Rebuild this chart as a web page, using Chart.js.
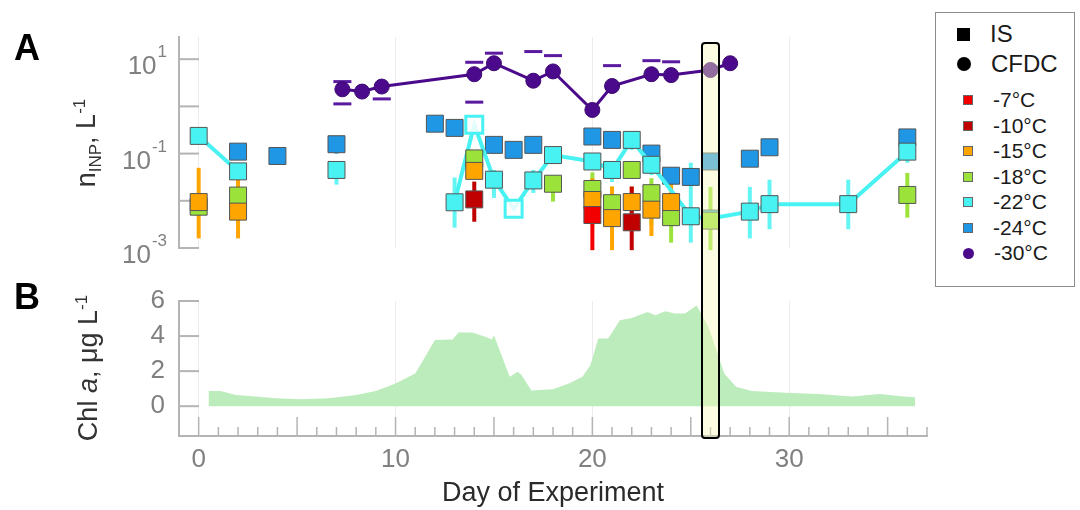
<!DOCTYPE html>
<html>
<head>
<meta charset="utf-8">
<script src="https://cdn.jsdelivr.net/npm/chart.js"></script>
<style>
  body { margin: 0; background: #fff; font-family: 'Liberation Sans', Arial, sans-serif; }
  #wrap { position: relative; width: 1080px; height: 510px; overflow: hidden; }
  canvas { position: absolute; left: 0; }
  #chartA { top: 0; }
  #chartB { top: 256px; }
  .panel { position: absolute; font-weight: bold; font-size: 36px; color: #000; transform: translate(-50%, -50%); }
  .ytitle { position: absolute; font-size: 27px; color: #333; white-space: nowrap; transform: translate(-50%, -50%) rotate(-90deg); }
  .ytitle sub, .ytitle sup { font-size: 17px; }
  #legend { position: absolute; left: 935px; top: 12px; width: 140px; height: 275px; border: 1.5px solid #8c8c8c; box-sizing: border-box; background: #fff; }
  .lg { position: absolute; display: flex; align-items: center; transform: translateY(-50%); color: #1a1a1a; white-space: nowrap; }
  .lg .mk { display: inline-block; box-sizing: border-box; }
  #highlight { position: absolute; border: 2.5px solid #000; border-radius: 4px; box-sizing: border-box; background: rgba(248, 248, 185, 0.42); }
</style>
</head>
<body>
<div id="wrap">
  <canvas id="chartA" width="940" height="275"></canvas>
  <canvas id="chartB" width="940" height="254"></canvas>
  <div class="panel" style="left:27px; top:48px;">A</div>
  <div class="panel" style="left:27px; top:297px;">B</div>
  <div class="ytitle" style="left:88px; top:143px;">n<sub>INP</sub>, L<sup>-1</sup></div>
  <div class="ytitle" style="left:88px; top:368px;">Chl <i>a</i>, μg L<sup>-1</sup></div>
  <div id="legend"></div>
  <div id="highlight"></div>
</div>
<script>
// axes
var dayTicks = [0, 10, 20, 30];
var innTicks = [0.001, 0.01, 0.1, 1, 10];
var innLabelExp = [1, -1, -3];
var chlTicks = [0, 2, 4, 6];
var highlightDay = 26;

// CFDC, -30 C
var cfdcDays = [7.3, 8.3, 9.3, 14, 15, 17, 18, 20, 21, 23, 24, 26, 27];
var cfdcValues = [2.3, 2.06, 2.63, 4.8, 8.2, 3.5, 5.5, 0.84, 2.7, 4.8, 4.6, 5.9, 8.2];
var cfdcLow = [1.13, null, 1.44, 1.23, null, null, null, null, null, null, null, null, null];
var cfdcHigh = [3.35, null, null, 8.6, 13.4, 14.5, 11.9, null, 7.3, 9.3, 8.8, null, null];

// IS series
var is7Days = [20];
var is7Values = [0.005];
var is7Low = [0.0009];
var is7High = [0.0277];

var is10Days = [14, 22];
var is10Values = [0.0107, 0.0035];
var is10Low = [0.0036, 0.0009];
var is10High = [0.0255, 0.02];

var is15Days = [0, 2, 14, 20, 21, 22, 23, 24];
var is15Values = [0.0094, 0.0059, 0.043, 0.0104, 0.0043, 0.0094, 0.0065, 0.0094];
var is15Low = [0.0016, 0.0016, null, 0.003, 0.0009, 0.004, 0.0018, 0.003];
var is15High = [0.05, 0.028, null, 0.03, 0.02, 0.02, 0.0123, 0.028];

var is18Days = [0, 2, 14, 18, 20, 21, 22, 23, 24, 26, 36];
var is18Values = [0.0075, 0.0129, 0.079, 0.023, 0.0178, 0.0089, 0.045, 0.0145, 0.0045, 0.0038, 0.0133];
var is18Low = [null, null, null, 0.0096, 0.004, 0.002, null, 0.003, 0.0013, 0.0009, 0.0044];
var is18High = [null, null, null, 0.0217, 0.04, 0.02, null, 0.03, 0.012, 0.0197, 0.039];

var is22Days = [0, 2, 7, 13, 14, 15, 16, 17, 18, 20, 21, 22, 23, 25, 26, 28, 29, 33, 36];
var is22Values = [0.237, 0.042, 0.045, 0.0093, 0.41, 0.028, 0.0068, 0.027, 0.093, 0.068, 0.045, 0.195, 0.058, 0.0047, 0.0042, 0.0059, 0.0085, 0.0085, 0.11];
var is22Low = [0.16, null, 0.022, 0.0027, null, 0.0115, null, 0.0147, 0.06, 0.045, 0.025, 0.12, 0.035, 0.0013, null, 0.0016, 0.0025, 0.0025, 0.064];
var is22High = [0.3, null, 0.06, 0.031, null, 0.045, null, 0.045, 0.12, 0.09, 0.06, 0.25, 0.08, 0.064, null, 0.0197, 0.028, 0.028, 0.17];
var is22Open = [14, 16];
var is22BreakAfter = [2, 7];

var is24Days = [2, 4, 7, 12, 13, 15, 16, 17, 20, 21, 23, 24, 25, 26, 28, 29, 36];
var is24Values = [0.11, 0.089, 0.158, 0.43, 0.35, 0.153, 0.12, 0.153, 0.23, 0.195, 0.10, 0.034, 0.032, 0.068, 0.078, 0.136, 0.22];
var is24Low = [0.075, 0.07, 0.1, 0.3, 0.24, 0.1, 0.085, 0.1, 0.16, 0.14, 0.07, 0.024, 0.023, 0.045, 0.052, 0.095, 0.16];
var is24High = [0.15, 0.125, 0.21, 0.55, 0.45, 0.2, 0.16, 0.2, 0.3, 0.26, 0.14, 0.048, 0.045, 0.1, 0.11, 0.19, 0.3];

// chlorophyll a
var chlDays = [0.5, 1.1, 1.9, 2.9, 3.9, 5.2, 6.6, 8.0, 9.0, 10.0, 11.0, 11.5, 12.0, 12.9, 13.2, 13.9, 14.6, 14.9, 15.0, 15.8, 16.2, 16.4, 16.9, 18.0, 18.8, 19.5, 19.9, 20.3, 20.8, 21.4, 22.0, 22.8, 23.2, 23.7, 24.2, 24.7, 25.3, 25.9, 26.3, 26.7, 27.3, 28.1, 29.8, 31.5, 33.2, 34.6, 35.8, 36.4];
var chlValues = [0.87, 0.87, 0.64, 0.55, 0.45, 0.40, 0.45, 0.64, 0.87, 1.3, 1.87, 2.8, 3.77, 3.8, 4.2, 4.2, 3.95, 3.8, 4.05, 1.68, 1.97, 1.78, 0.89, 0.97, 1.3, 1.68, 2.35, 3.86, 3.86, 4.9, 5.03, 5.37, 5.19, 5.41, 5.28, 5.28, 5.75, 4.5, 3.2, 1.87, 1.11, 0.87, 0.77, 0.70, 0.55, 0.70, 0.55, 0.51];

var cyan = '#48f2f2';
var purple = '#4b0a8c';
var font = "'Liberation Sans', Arial, sans-serif";
Chart.defaults.font.family = font;

function pts(days, vals) {
    return days.map(function (d, i) { return { x: d, y: vals[i] }; });
}

// warmest first so it is drawn on top
var isSeries = [
    { label: '-7°C', color: '#f20000', days: is7Days, values: is7Values, lo: is7Low, hi: is7High },
    { label: '-10°C', color: '#c00000', days: is10Days, values: is10Values, lo: is10Low, hi: is10High },
    { label: '-15°C', color: '#ffa500', days: is15Days, values: is15Values, lo: is15Low, hi: is15High },
    { label: '-18°C', color: '#9be33a', days: is18Days, values: is18Values, lo: is18Low, hi: is18High },
    { label: '-22°C', color: cyan, days: is22Days, values: is22Values, lo: is22Low, hi: is22High },
    { label: '-24°C', color: '#1f97e5', days: is24Days, values: is24Values, lo: is24Low, hi: is24High }
];

var datasetsA = isSeries.map(function (s) {
    var isCyan = s.color === cyan;
    return {
        label: s.label,
        data: pts(s.days, s.values),
        showLine: isCyan,
        borderColor: s.color,
        borderWidth: 4,
        segment: isCyan ? {
            borderColor: function (c) { return is22BreakAfter.indexOf(c.p0.parsed.x) >= 0 ? 'transparent' : cyan; }
        } : undefined,
        pointStyle: 'rect',
        pointRadius: 12,
        pointBackgroundColor: s.days.map(function (d) { return isCyan && is22Open.indexOf(d) >= 0 ? 'rgba(255,255,255,0.85)' : s.color; }),
        pointBorderColor: s.days.map(function (d) { return isCyan && is22Open.indexOf(d) >= 0 ? cyan : '#555'; }),
        pointBorderWidth: s.days.map(function (d) { return isCyan && is22Open.indexOf(d) >= 0 ? 3 : 1; }),
        errLo: s.lo, errHi: s.hi, errColor: isCyan ? 'rgba(72,242,242,0.85)' : s.color, errStyle: 'bar'
    };
});
datasetsA.push({
    label: '-30°C',
    data: pts(cfdcDays, cfdcValues),
    showLine: true,
    borderColor: purple,
    borderWidth: 3,
    pointStyle: 'circle',
    pointRadius: 7.5,
    pointBackgroundColor: purple,
    pointBorderColor: '#3c0872',
    pointBorderWidth: 1,
    errLo: cfdcLow, errHi: cfdcHigh, errColor: '#5a1aa0', errStyle: 'caps'
});

var errorBars = {
    id: 'errorBars',
    beforeDatasetsDraw: function (chart) {
        var ctx = chart.ctx, xs = chart.scales.x, ys = chart.scales.y;
        ctx.save();
        for (var i = chart.data.datasets.length - 1; i >= 0; i--) {
            var ds = chart.data.datasets[i];
            if (!ds.errLo) continue;
            ds.data.forEach(function (p, j) {
                var lo = ds.errLo[j], hi = ds.errHi[j];
                var px = xs.getPixelForValue(p.x);
                ctx.strokeStyle = ds.errColor;
                if (ds.errStyle === 'caps') {
                    ctx.lineWidth = 3;
                    [lo, hi].forEach(function (v) {
                        if (v == null) return;
                        var py = ys.getPixelForValue(v);
                        ctx.beginPath(); ctx.moveTo(px - 9, py); ctx.lineTo(px + 9, py); ctx.stroke();
                    });
                } else {
                    if (lo == null && hi == null) return;
                    ctx.lineWidth = 4;
                    ctx.beginPath();
                    ctx.moveTo(px, ys.getPixelForValue(lo == null ? p.y : lo));
                    ctx.lineTo(px, ys.getPixelForValue(hi == null ? p.y : hi));
                    ctx.stroke();
                }
            });
        }
        ctx.restore();
    }
};

// tick marks pointing into the plot
var innerTicks = {
    id: 'innerTicks',
    beforeDatasetsDraw: function (chart, args, opts) {
        var ctx = chart.ctx, a = chart.chartArea, xs = chart.scales.x, ys = chart.scales.y;
        ctx.save();
        ctx.strokeStyle = '#b4b4b4';
        ctx.lineWidth = 2;
        ys.ticks.forEach(function (t) {
            var py = ys.getPixelForValue(t.value);
            ctx.beginPath(); ctx.moveTo(a.left, py); ctx.lineTo(a.left + 20, py); ctx.stroke();
        });
        if (opts.xMinor) {
            ctx.lineWidth = 1.5;
            for (var d = Math.ceil(xs.min); d <= xs.max; d++) {
                var px = xs.getPixelForValue(d);
                var len = d % 5 === 0 ? 19 : 9;
                ctx.beginPath(); ctx.moveTo(px, a.bottom); ctx.lineTo(px, a.bottom - len); ctx.stroke();
            }
        }
        ctx.restore();
    }
};

// 10^n labels for the log axis
var powerLabels = {
    id: 'powerLabels',
    afterDraw: function (chart) {
        var ctx = chart.ctx, ys = chart.scales.y;
        var right = chart.chartArea.left - 12;
        ctx.save();
        ctx.fillStyle = '#808080';
        ctx.textAlign = 'right';
        ctx.textBaseline = 'alphabetic';
        innLabelExp.forEach(function (e) {
            var py = ys.getPixelForValue(Math.pow(10, e));
            var ex = String(e);
            ctx.font = '17px ' + font;
            var w = ctx.measureText(ex).width;
            ctx.fillText(ex, right, py - 2);
            ctx.font = '26px ' + font;
            ctx.fillText('10', right - w - 1, py + 15);
        });
        ctx.restore();
    }
};

var chartA = new Chart(document.getElementById('chartA').getContext('2d'), {
    type: 'scatter',
    data: { datasets: datasetsA },
    options: {
        responsive: false,
        animation: false,
        layout: { padding: { top: 37, bottom: 27, left: 0, right: 13 } },
        plugins: { legend: { display: false }, tooltip: { enabled: false }, innerTicks: { xMinor: false } },
        scales: {
            x: {
                type: 'linear', min: -1, max: 37,
                afterBuildTicks: function (s) { s.ticks = dayTicks.map(function (v) { return { value: v }; }); },
                afterFit: function (s) { s.height = 0; },
                ticks: { display: false },
                grid: { color: '#ececec', drawTicks: false },
                border: { display: false }
            },
            y: {
                type: 'logarithmic', min: 0.001, max: 29.5,
                afterBuildTicks: function (s) { s.ticks = innTicks.map(function (v) { return { value: v }; }); },
                afterFit: function (s) { s.width = 179; },
                ticks: { display: false },
                grid: { display: false, drawTicks: false },
                border: { color: '#b4b4b4', width: 2 }
            }
        }
    },
    plugins: [innerTicks, errorBars, powerLabels]
});

var chartB = new Chart(document.getElementById('chartB').getContext('2d'), {
    type: 'line',
    data: {
        datasets: [{
            label: 'Chl a',
            data: pts(chlDays, chlValues),
            fill: 'origin',
            backgroundColor: '#bdecbc',
            borderWidth: 0,
            pointRadius: 0,
            tension: 0
        }]
    },
    options: {
        responsive: false,
        animation: false,
        layout: { padding: { top: 45, bottom: 0, left: 0, right: 13 } },
        plugins: { legend: { display: false }, tooltip: { enabled: false }, innerTicks: { xMinor: true } },
        scales: {
            x: {
                type: 'linear', min: -1, max: 37,
                afterBuildTicks: function (s) { s.ticks = dayTicks.map(function (v) { return { value: v }; }); },
                afterFit: function (s) { s.height = 74; },
                ticks: { color: '#808080', font: { size: 26 }, padding: 8, maxRotation: 0 },
                grid: { color: '#ececec', drawTicks: false },
                border: { color: '#b4b4b4', width: 2 },
                title: { display: true, text: 'Day of Experiment', color: '#2a2a2a', font: { size: 27 }, padding: { top: 0, bottom: 0 } }
            },
            y: {
                type: 'linear', min: -1.7, max: 6,
                afterBuildTicks: function (s) { s.ticks = chlTicks.map(function (v) { return { value: v }; }); },
                afterFit: function (s) { s.width = 179; },
                ticks: { color: '#808080', font: { size: 26 }, padding: 14 },
                grid: { display: false, drawTicks: false },
                border: { color: '#b4b4b4', width: 2 }
            }
        }
    },
    plugins: [innerTicks]
});

// legend
var legendRows = [{ label: 'IS', color: '#000', shape: 'rect', big: true }, { label: 'CFDC', color: '#000', shape: 'circle', big: true }]
    .concat(isSeries.map(function (s) { return { label: s.label, color: s.color, shape: 'rect' }; }))
    .concat([{ label: '-30°C', color: purple, shape: 'circle' }]);
var legend = document.getElementById('legend');
legendRows.forEach(function (r, i) {
    var cy = i < 2 ? 21 + 30 * i : 87 + 25.5 * (i - 2);
    var row = document.createElement('div');
    row.className = 'lg';
    row.style.top = cy + 'px';
    row.style.left = r.big ? '21px' : '27px';
    row.style.fontSize = r.big ? '24px' : '21px';
    var mk = document.createElement('span');
    mk.className = 'mk';
    var size = r.big ? 13 : 10;
    mk.style.width = size + 'px';
    mk.style.height = size + 'px';
    mk.style.background = r.color;
    mk.style.marginRight = r.big ? '20px' : '20px';
    if (r.shape === 'circle') { mk.style.borderRadius = '50%'; mk.style.width = mk.style.height = (size + 1) + 'px'; }
    else if (!r.big) { mk.style.border = '1px solid #666'; }
    row.appendChild(mk);
    row.appendChild(document.createTextNode(r.label));
    legend.appendChild(row);
});

// highlighted day
var xs = chartB.scales.x;
var hl = document.getElementById('highlight');
var hlLeft = xs.getPixelForValue(highlightDay - 0.5);
var hlRight = xs.getPixelForValue(highlightDay + 0.5);
var hlTop = chartA.chartArea.top + 5;
var hlBottom = 256 + chartB.chartArea.bottom + 3;
hl.style.left = hlLeft + 'px';
hl.style.width = (hlRight - hlLeft) + 'px';
hl.style.top = hlTop + 'px';
hl.style.height = (hlBottom - hlTop) + 'px';
</script>
</body>
</html>
